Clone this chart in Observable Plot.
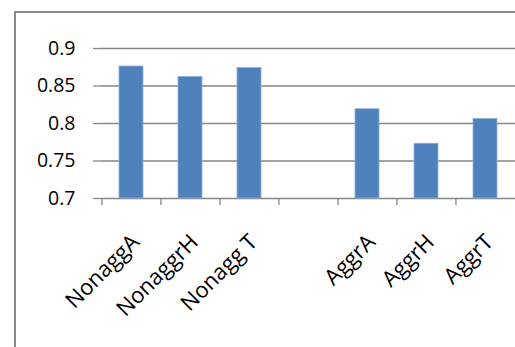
<!DOCTYPE html>
<html>
<head>
<meta charset="utf-8">
<script src="https://cdn.jsdelivr.net/npm/d3@7"></script>
<script src="https://cdn.jsdelivr.net/npm/@observablehq/plot@0.6"></script>
<style>
  html, body { margin: 0; padding: 0; background: #fff; overflow: hidden; }
  #wrap { position: relative; width: 515px; height: 347px; }
  #border { position: absolute; left: 14px; top: 11px; width: 700px; height: 500px;
            border-left: 2.5px solid #8a8a8a; border-top: 2.5px solid #8a8a8a; pointer-events: none; }
</style>
</head>
<body>
<div id="wrap"><div id="border"></div></div>
<script>
const categories = ["NonaggA", "NonaggrH", "Nonagg T", " ", "AggrA", "AggrH", "AggrT"];
const values = [0.876, 0.862, 0.874, null, 0.819, 0.773, 0.806];
const yTicks = [0.7, 0.75, 0.8, 0.85, 0.9];

const data = categories.map((c, i) => ({category: c, value: values[i]})).filter(d => d.value != null);

const W = 515, H = 347, mL = 101, mR = 0, mT = 48, mB = 149;
const step = (W - mL - mR) / categories.length;
const font = "'Open Sans', sans-serif";

const chart = Plot.plot({
  width: W, height: H,
  marginLeft: mL, marginRight: mR, marginTop: mT, marginBottom: mB,
  style: {fontFamily: font, background: "transparent", overflow: "visible"},
  x: {domain: categories, paddingInner: 0.6, paddingOuter: 0.3, axis: null},
  y: {domain: [0.7, 0.9], axis: null},
  marks: [
    Plot.gridY(yTicks, {stroke: "#868686", strokeOpacity: 1, strokeWidth: 1.3}),
    Plot.barY(data, {x: "category", y1: 0.7, y2: "value", fill: "#4F81BD", stroke: "#8fb0d8", strokeWidth: 0.8}),
    Plot.axisY(yTicks, {tickSize: 8, tickPadding: 18, fontSize: 19.5, stroke: "#868686", strokeWidth: 1.3, fill: "#000", tickFormat: d => String(d), label: null}),
    Plot.ruleX([0], {frameAnchor: "left", stroke: "#868686", strokeWidth: 1.3}),
    Plot.axisX({tickSize: 7, dx: -step / 2, text: null, stroke: "#868686", strokeWidth: 1.3, label: null}),
    Plot.axisX({tickSize: 0, tickPadding: 40, tickRotate: -45, fontSize: 22, fill: "#000", dx: 4, label: null})
  ]
});
document.getElementById("wrap").prepend(chart);
chart.style.position = "absolute";
chart.style.left = "0px";
chart.style.top = "0px";
</script>
</body>
</html>
